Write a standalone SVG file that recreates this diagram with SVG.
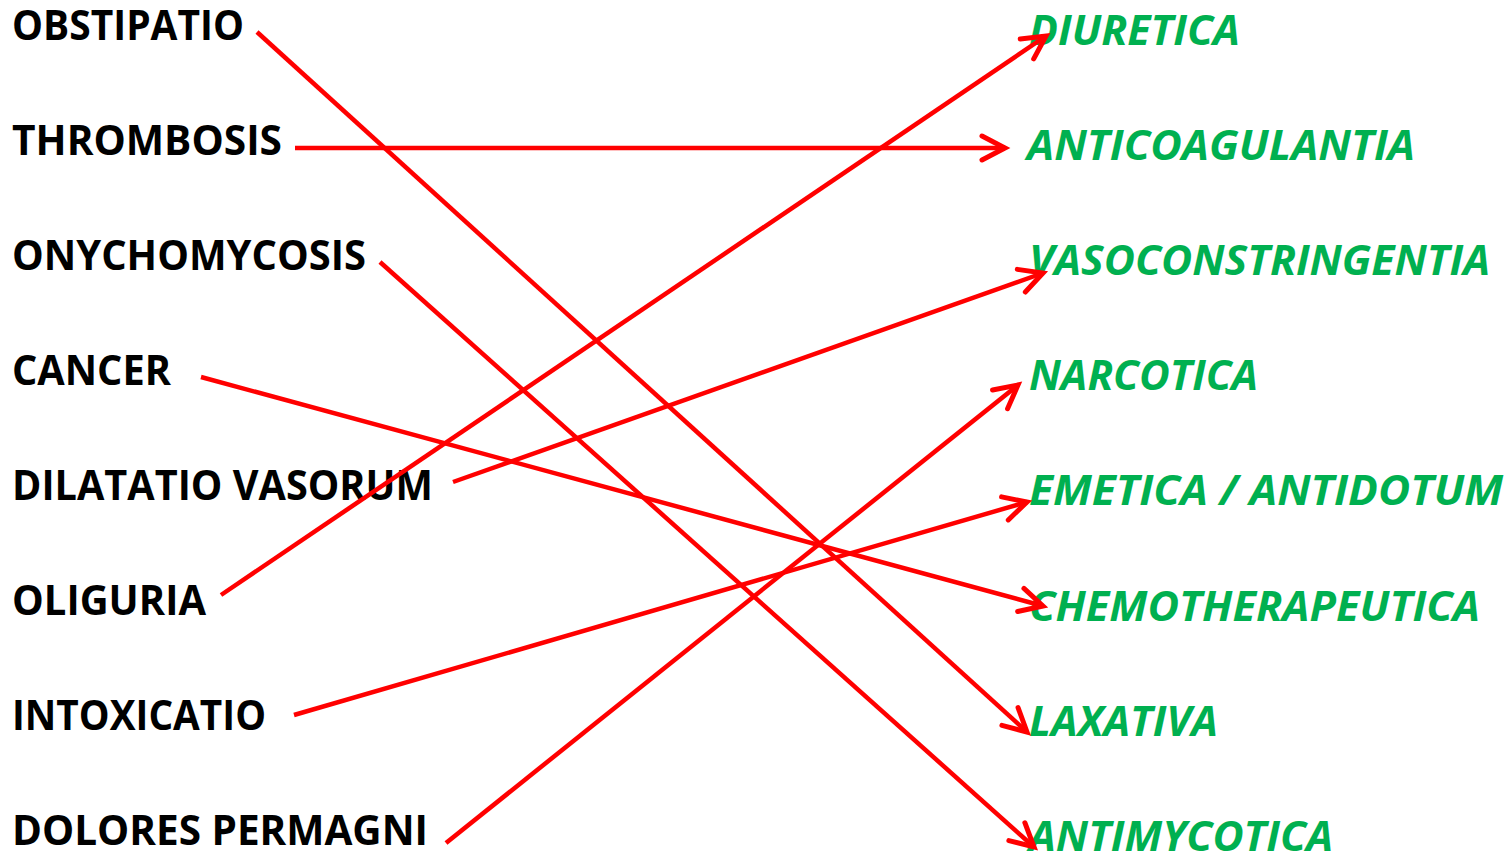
<svg xmlns="http://www.w3.org/2000/svg" width="1512" height="855" viewBox="0 0 1512 855">
<defs>
<style>
.l{font-family:"Open Sans","Liberation Sans",sans-serif;font-weight:700;font-size:41px;fill:#000}
.r{font-family:"Open Sans","Liberation Sans",sans-serif;font-weight:700;font-style:italic;font-size:41px;fill:#00B050}
.c{stroke:#FF0000;stroke-width:4.5;fill:none}
</style>
<marker id="ah" markerUnits="userSpaceOnUse" markerWidth="40" markerHeight="40" viewBox="-30 -20 40 40" refX="0" refY="0" orient="auto" overflow="visible">
<path d="M-23,-12 L0,0 L-23,12" fill="none" stroke="#FF0000" stroke-width="5" stroke-linecap="round" stroke-linejoin="miter"/>
</marker>
</defs>
<rect width="1512" height="855" fill="#fff"/>
<g id="left-obstipatio"><text class="l" x="12" y="40" textLength="232" lengthAdjust="spacingAndGlyphs">OBSTIPATIO</text></g>
<g id="left-thrombosis"><text class="l" x="12" y="155" textLength="270" lengthAdjust="spacingAndGlyphs">THROMBOSIS</text></g>
<g id="left-onychomycosis"><text class="l" x="12" y="270" textLength="354" lengthAdjust="spacingAndGlyphs">ONYCHOMYCOSIS</text></g>
<g id="left-cancer"><text class="l" x="12" y="385" textLength="159" lengthAdjust="spacingAndGlyphs">CANCER</text></g>
<g id="left-dilatatio"><text class="l" x="12" y="500" textLength="421" lengthAdjust="spacingAndGlyphs">DILATATIO VASORUM</text></g>
<g id="left-oliguria"><text class="l" x="12" y="615" textLength="194" lengthAdjust="spacingAndGlyphs">OLIGURIA</text></g>
<g id="left-intoxicatio"><text class="l" x="12" y="730" textLength="254" lengthAdjust="spacingAndGlyphs">INTOXICATIO</text></g>
<g id="left-dolores"><text class="l" x="12" y="845" textLength="416" lengthAdjust="spacingAndGlyphs">DOLORES PERMAGNI</text></g>
<g id="right-diuretica"><text class="r" x="1029" y="45" textLength="211" lengthAdjust="spacingAndGlyphs">DIURETICA</text></g>
<g id="right-anticoagulantia"><text class="r" x="1027" y="160" textLength="388" lengthAdjust="spacingAndGlyphs">ANTICOAGULANTIA</text></g>
<g id="right-vasoconstringentia"><text class="r" x="1029" y="275" textLength="461" lengthAdjust="spacingAndGlyphs">VASOCONSTRINGENTIA</text></g>
<g id="right-narcotica"><text class="r" x="1029" y="390" textLength="229" lengthAdjust="spacingAndGlyphs">NARCOTICA</text></g>
<g id="right-emetica"><text class="r" x="1029" y="505" textLength="474" lengthAdjust="spacingAndGlyphs">EMETICA / ANTIDOTUM</text></g>
<g id="right-chemotherapeutica"><text class="r" x="1029" y="621" textLength="451" lengthAdjust="spacingAndGlyphs">CHEMOTHERAPEUTICA</text></g>
<g id="right-laxativa"><text class="r" x="1029" y="736" textLength="189" lengthAdjust="spacingAndGlyphs">LAXATIVA</text></g>
<g id="right-antimycotica"><text class="r" x="1029" y="851" textLength="304" lengthAdjust="spacingAndGlyphs">ANTIMYCOTICA</text></g>
<g id="connectors">
<line class="c" x1="257" y1="32" x2="1027" y2="732" marker-end="url(#ah)"/>
<line class="c" x1="295" y1="148" x2="1005" y2="148" marker-end="url(#ah)"/>
<line class="c" x1="380" y1="262" x2="1034" y2="847" marker-end="url(#ah)"/>
<line class="c" x1="201" y1="377" x2="1043" y2="606" marker-end="url(#ah)"/>
<line class="c" x1="453" y1="482" x2="1043" y2="273" marker-end="url(#ah)"/>
<line class="c" x1="221" y1="595" x2="1046" y2="36" marker-end="url(#ah)"/>
<line class="c" x1="294" y1="715" x2="1027" y2="502" marker-end="url(#ah)"/>
<line class="c" x1="446" y1="843" x2="1018" y2="385" marker-end="url(#ah)"/>
</g>
</svg>
